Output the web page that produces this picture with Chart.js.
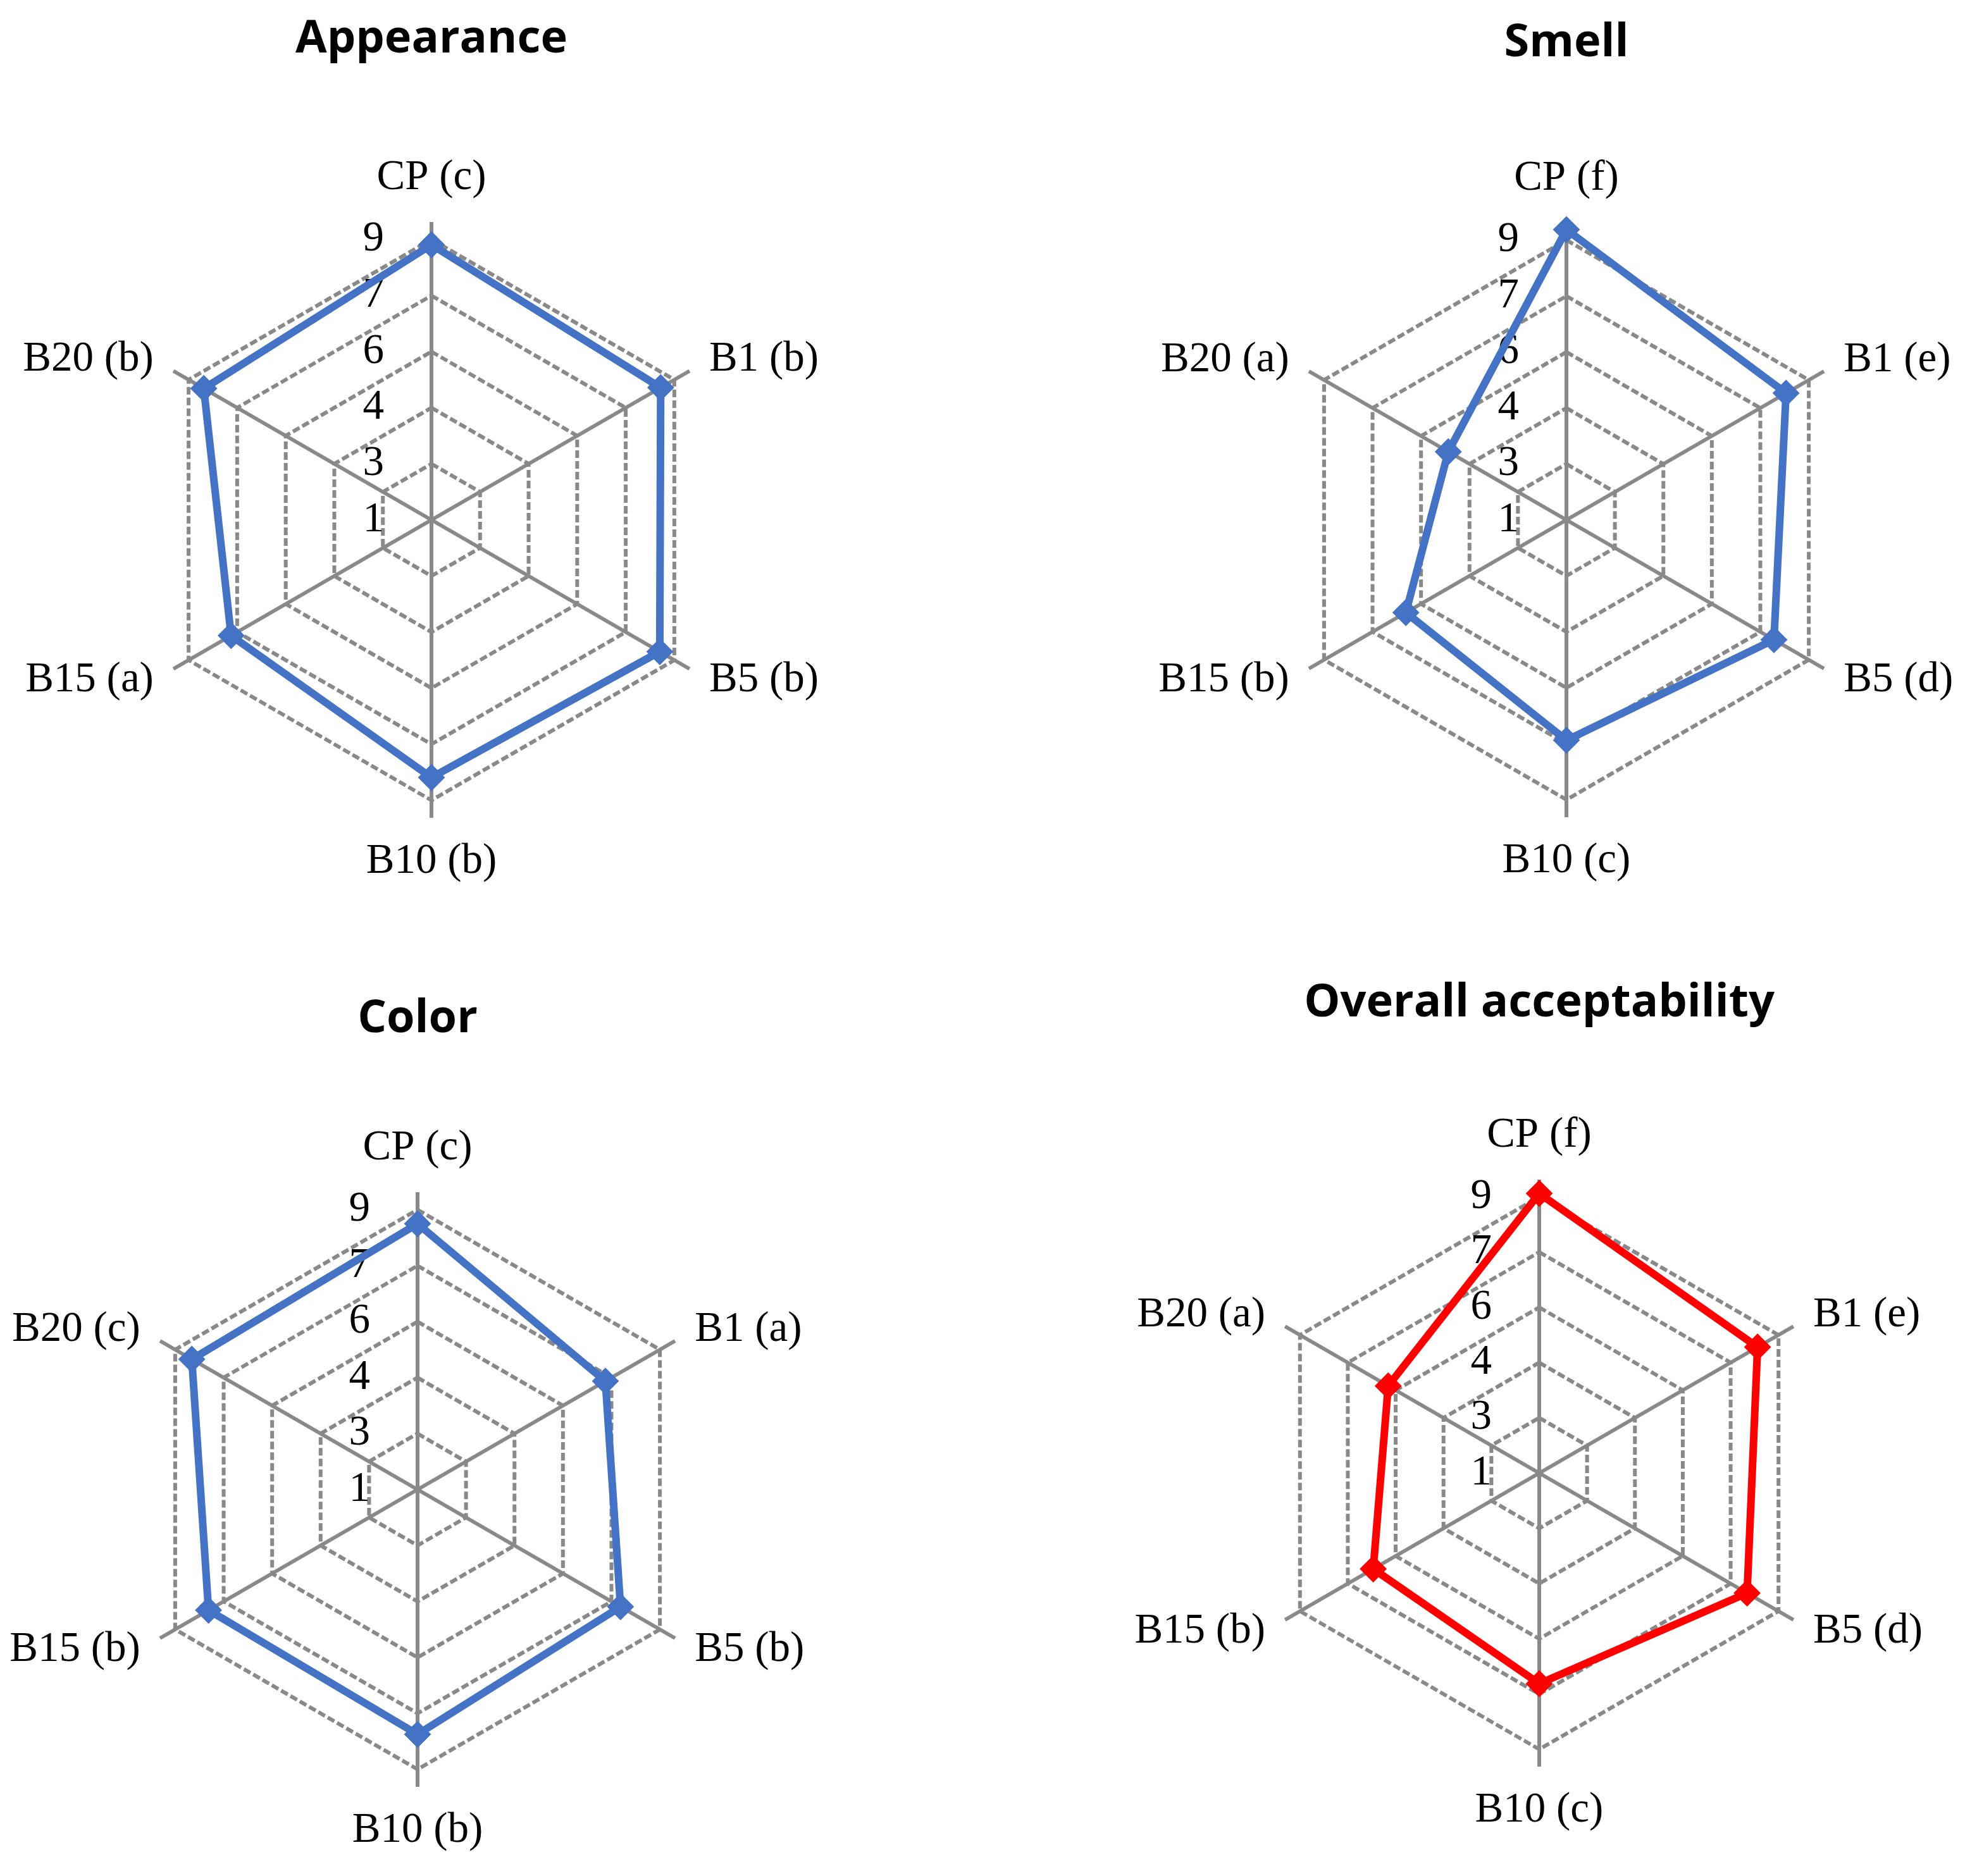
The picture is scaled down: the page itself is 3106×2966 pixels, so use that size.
<!DOCTYPE html>
<html>
<head>
<meta charset="utf-8">
<title>Sensory radar charts</title>
<script src="https://cdn.jsdelivr.net/npm/chart.js@4.4.1/dist/chart.umd.min.js"></script>
<style>
  html, body { margin: 0; padding: 0; background: #fff; }
  #page { position: relative; width: 3106px; height: 2966px; }
  canvas { position: absolute; }
</style>
</head>
<body>
<div id="page">
  <canvas id="appearance" width="1553" height="1483" style="left:0;top:0"></canvas>
  <canvas id="smell" width="1553" height="1483" style="left:1553px;top:0"></canvas>
  <canvas id="color" width="1553" height="1483" style="left:0;top:1483px"></canvas>
  <canvas id="overall" width="1553" height="1483" style="left:1553px;top:1483px"></canvas>
</div>
<script>
// radial axis: 1..9, Excel-style ticks (1.6 step shown rounded)
const tickValues = [1, 2.6, 4.2, 5.8, 7.4, 9];
const tickLabels = ["1", "3", "4", "6", "7", "9"];

const appearanceLabels = ["CP (c)", "B1 (b)", "B5 (b)", "B10 (b)", "B15 (a)", "B20 (b)"];
const appearanceValues = [8.85, 8.55, 8.52, 8.35, 7.6, 8.5];

const smellLabels = ["CP (f)", "B1 (e)", "B5 (d)", "B10 (c)", "B15 (b)", "B20 (a)"];
const smellValues = [9.3, 8.25, 7.85, 7.3, 6.3, 4.9];

const colorLabels = ["CP (c)", "B1 (a)", "B5 (b)", "B10 (b)", "B15 (b)", "B20 (c)"];
const colorValues = [8.6, 7.2, 7.7, 8.0, 7.9, 8.45];

const overallLabels = ["CP (f)", "B1 (e)", "B5 (d)", "B10 (c)", "B15 (b)", "B20 (a)"];
const overallValues = [9.1, 8.3, 7.95, 7.1, 6.55, 6.05];

const W = 1553;
const H = 1483;
const SERIF = '67px "Liberation Serif", "DejaVu Serif", serif';
const GREY = "#898989";

// tick numbers sit left of the vertical axis, under the series line;
// category names are drawn outside the outer ring
const radarText = {
  id: "radarText",
  beforeDatasetsDraw(chart) {
    const scale = chart.scales.r;
    const ctx = chart.ctx;
    ctx.save();
    ctx.font = SERIF;
    ctx.fillStyle = "#000";
    ctx.textAlign = "right";
    ctx.textBaseline = "middle";
    scale.ticks.forEach((tick) => {
      const y = scale.yCenter - scale.getDistanceFromCenterForValue(tick.value);
      ctx.fillText(tick.label, scale.xCenter - 75, y);
    });
    ctx.restore();
  },
  afterDraw(chart) {
    const scale = chart.scales.r;
    const ctx = chart.ctx;
    ctx.save();
    ctx.font = SERIF;
    ctx.fillStyle = "#000";
    chart.data.labels.forEach((label, i) => {
      const pos = scale.getPointPosition(i, scale.drawingArea + 36);
      const dx = pos.x - scale.xCenter;
      if (Math.abs(dx) < 1) {
        ctx.textAlign = "center";
        ctx.textBaseline = pos.y < scale.yCenter ? "bottom" : "top";
      } else {
        ctx.textAlign = dx > 0 ? "left" : "right";
        ctx.textBaseline = "middle";
      }
      ctx.fillText(label, pos.x, pos.y);
    });
    ctx.restore();
  }
};

function makeRadar(id, title, labels, values, color, box) {
  const titleLine = 72 * 1.2;
  const areaTop = box.cy - box.r;
  new Chart(document.getElementById(id), {
    type: "radar",
    data: {
      labels,
      datasets: [{
        data: values,
        borderColor: color,
        backgroundColor: color,
        borderWidth: 12,
        fill: false,
        pointStyle: "rectRot",
        pointRadius: 20,
        pointBackgroundColor: color,
        pointBorderColor: color,
        pointBorderWidth: 2
      }]
    },
    options: {
      responsive: false,
      animation: false,
      layout: {
        padding: {
          left: box.cx - box.r,
          right: W - box.cx - box.r,
          top: 0,
          bottom: H - box.cy - box.r
        }
      },
      plugins: {
        legend: { display: false },
        tooltip: { enabled: false },
        title: {
          display: true,
          text: title,
          color: "#000",
          font: { family: "'Open Sans', sans-serif", size: 72, weight: "bold" },
          padding: { top: box.ty - titleLine / 2, bottom: areaTop - box.ty - titleLine / 2 }
        }
      },
      scales: {
        r: {
          min: 1,
          max: 9.5,
          afterBuildTicks: (axis) => {
            axis.ticks = tickValues.map((value) => ({ value }));
          },
          ticks: {
            display: false,
            callback: (value, index) => tickLabels[index]
          },
          pointLabels: { display: false },
          grid: { color: GREY, lineWidth: 6 },
          border: { dash: [12, 5] },
          angleLines: { color: GREY, lineWidth: 6 }
        }
      }
    },
    plugins: [radarText]
  });
}

makeRadar("appearance", "Appearance", appearanceLabels, appearanceValues, "#4472C4", { cx: 682, cy: 822, r: 471, ty: 62 });
makeRadar("smell", "Smell", smellLabels, smellValues, "#4472C4", { cx: 923, cy: 822, r: 470, ty: 68 });
makeRadar("color", "Color", colorLabels, colorValues, "#4472C4", { cx: 660, cy: 872, r: 470, ty: 128 });
makeRadar("overall", "Overall acceptability", overallLabels, overallValues, "#FF0000", { cx: 880, cy: 846, r: 464, ty: 103 });
</script>
</body>
</html>
